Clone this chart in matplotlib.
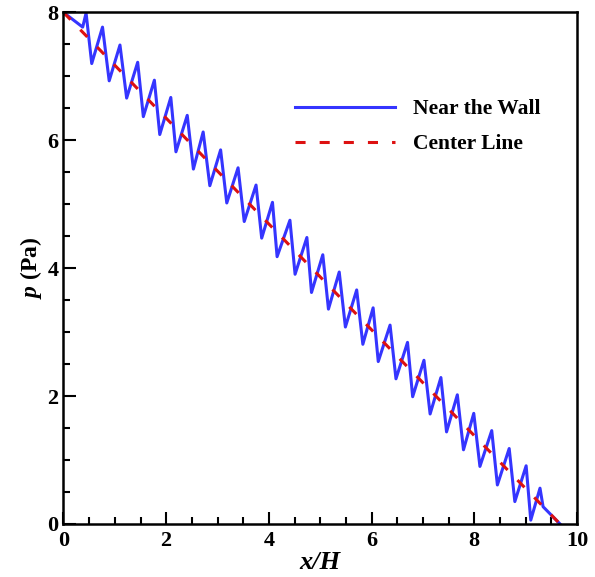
#!/usr/bin/python3

"""Pressure along the channel: near the wall vs. center line."""

import matplotlib
matplotlib.use('Agg')
import matplotlib.pyplot as plt


# Near the wall: start, kink, then peak / trough pairs.
x_wall = [0.0, 0.374, 0.44, 0.55, 0.76, 0.89, 1.10, 1.23, 1.445, 1.555,
          1.77, 1.875, 2.09, 2.19, 2.41, 2.53, 2.72, 2.85, 3.06, 3.18,
          3.40, 3.52, 3.75, 3.86, 4.07, 4.16, 4.41, 4.51, 4.74, 4.83,
          5.05, 5.16, 5.37, 5.49, 5.71, 5.83, 6.03, 6.13, 6.36, 6.475,
          6.70, 6.80, 7.02, 7.14, 7.35, 7.46, 7.67, 7.79, 7.99, 8.11,
          8.34, 8.45, 8.68, 8.79, 9.01, 9.10, 9.28, 9.34, 9.67]
p_wall = [8.0, 7.77, 7.99, 7.20, 7.77, 6.93, 7.49, 6.66, 7.22, 6.37,
          6.94, 6.09, 6.67, 5.82, 6.39, 5.55, 6.13, 5.29, 5.85, 5.02,
          5.57, 4.73, 5.30, 4.47, 5.03, 4.18, 4.75, 3.905, 4.48, 3.62,
          4.21, 3.36, 3.94, 3.08, 3.66, 2.81, 3.38, 2.54, 3.11, 2.27,
          2.84, 1.99, 2.56, 1.72, 2.29, 1.44, 2.02, 1.16, 1.73, 0.90,
          1.46, 0.61, 1.18, 0.35, 0.91, 0.06, 0.56, 0.27, 0.0]

# Center line.
x_center = [0.0, 9.67]
p_center = [8.0, 0.0]

x_ticks = [0, 2, 4, 6, 8, 10]
p_ticks = [0, 2, 4, 6, 8]

SERIF = 'Liberation Serif'


def main():
    plt.rcParams['font.family'] = SERIF
    plt.rcParams['font.weight'] = 'bold'
    plt.rcParams['mathtext.fontset'] = 'custom'
    plt.rcParams['mathtext.it'] = SERIF + ':italic:bold'
    plt.rcParams['mathtext.rm'] = SERIF + ':bold'

    fig = plt.figure(figsize=(5.95, 5.77), dpi=100)
    ax = fig.add_axes([0.1067, 0.0919, 0.8630, 0.8866])

    ax.plot(x_wall, p_wall, color='#3535ff', lw=2.2,
            solid_joinstyle='round', label='Near the Wall')
    ax.plot(x_center, p_center, color='#dd1111', lw=2.2,
            dashes=(3.3, 4.6), label='Center Line')

    ax.set_xlim(0, 10)
    ax.set_ylim(0, 8)
    ax.set_xticks(x_ticks)
    ax.set_yticks(p_ticks)
    ax.set_xticks([v / 2 for v in range(21)], minor=True)
    ax.set_yticks([v / 2 for v in range(17)], minor=True)
    ax.tick_params(which='both', direction='in', width=1.5,
                   labelsize=16, top=False, right=False)
    ax.tick_params(which='major', length=9)
    ax.tick_params(which='minor', length=5)
    ax.tick_params(axis='x', pad=5)
    for spine in ax.spines.values():
        spine.set_linewidth(1.8)

    ax.set_xlabel('x/H', fontsize=19, style='italic', weight='bold',
                  labelpad=0)
    ax.set_ylabel(r'$p$ (Pa)', fontsize=17, weight='bold', labelpad=2.5)

    ax.legend(loc='upper left', bbox_to_anchor=(0.413, 0.868),
              frameon=False, fontsize=15.5, handlelength=4.65,
              handletextpad=0.84, labelspacing=0.68)

    fig.savefig('out.png', dpi=100)


if __name__ == '__main__':
    main()
